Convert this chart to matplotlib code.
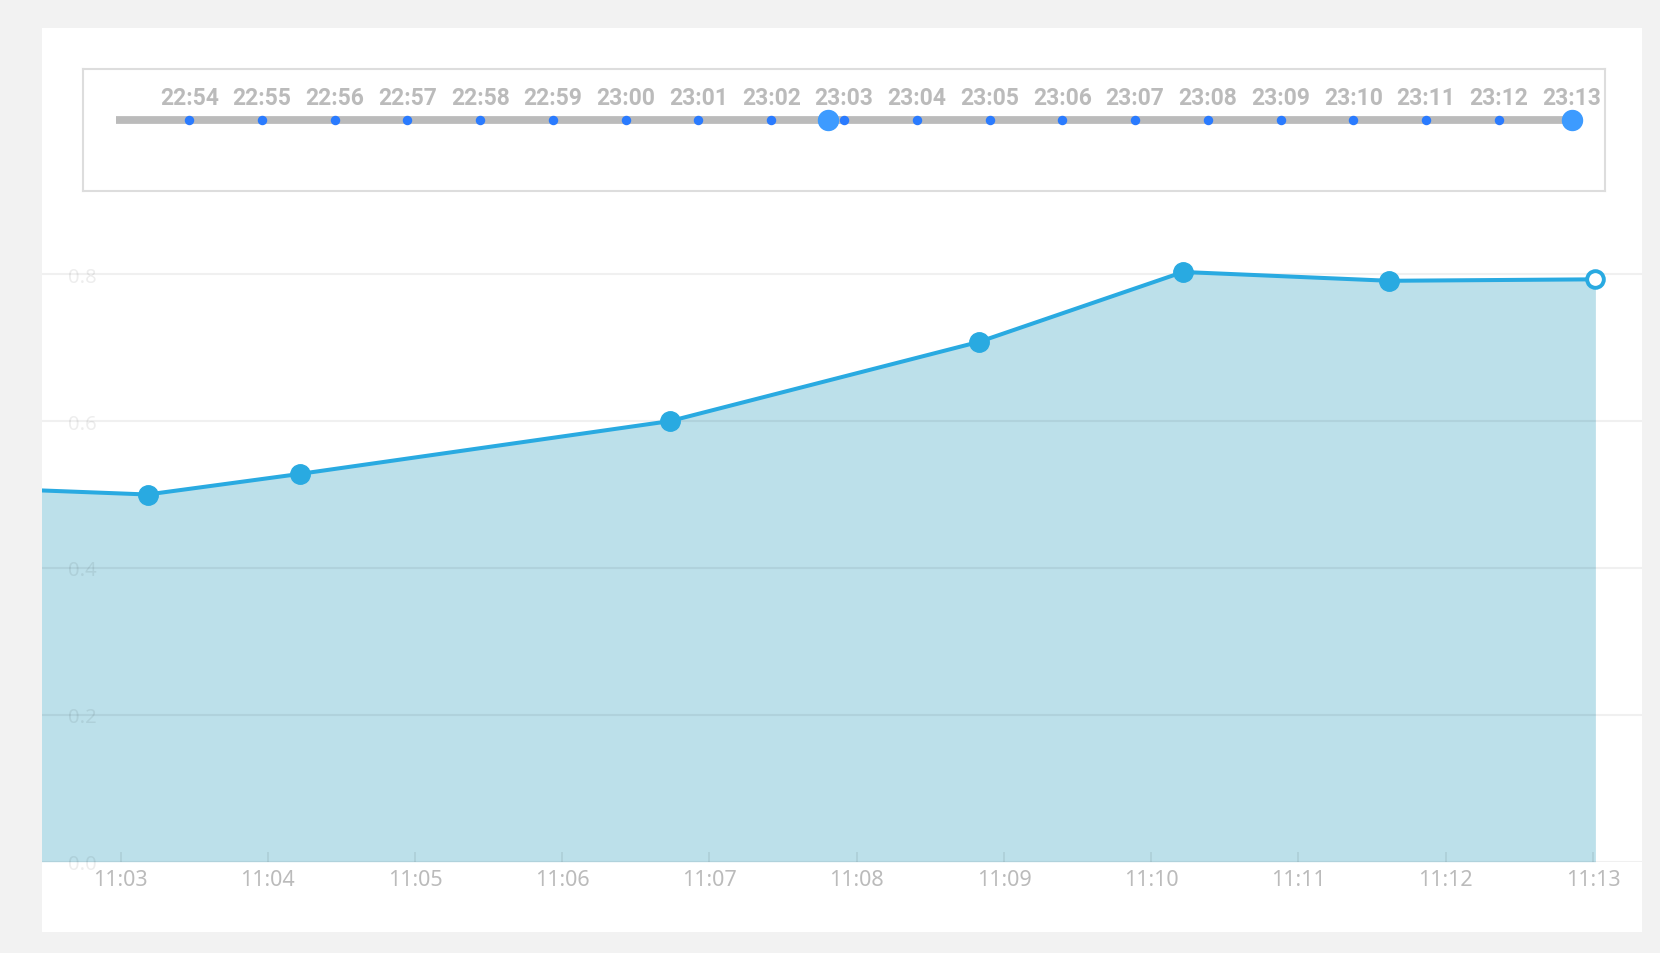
import datetime as dt
import matplotlib
matplotlib.use('Agg')
import matplotlib.pyplot as plt
import matplotlib.dates as mdates
import matplotlib.patches as patches

plt.rcParams['font.family'] = ['Noto Sans', 'DejaVu Sans']

# main series (first point sits just left of the visible window)
times = ['11:01:45', '11:03:11', '11:04:13', '11:06:44', '11:08:50',
         '11:10:13', '11:11:37', '11:13:01']
values = [0.511, 0.500, 0.528, 0.600, 0.708, 0.803, 0.791, 0.793]
x_ticks = ['11:03', '11:04', '11:05', '11:06', '11:07', '11:08',
           '11:09', '11:10', '11:11', '11:12', '11:13']
y_ticks = [0.0, 0.2, 0.4, 0.6, 0.8]
view = ('11:02:28', '11:13:20')
y_max = 0.9

# timeline strip on top
tl_labels = ['22:54', '22:55', '22:56', '22:57', '22:58', '22:59', '23:00',
             '23:01', '23:02', '23:03', '23:04', '23:05', '23:06', '23:07',
             '23:08', '23:09', '23:10', '23:11', '23:12', '23:13']
tl_start = '22:53'
tl_end = '23:13'
tl_handles = ['23:02:47', '23:13']

line_c = '#29aae1'
fill_c = '#bce0ea'
text_c = '#bbbbbb'


def t(s):
    if s.count(':') == 1:
        s = s + ':00'
    return mdates.date2num(dt.datetime.strptime('2020-01-01 ' + s, '%Y-%m-%d %H:%M:%S'))


W, H = 1660, 954
fig = plt.figure(figsize=(W / 100, H / 100), dpi=100, facecolor='#f2f2f2')

# white card
card = patches.Rectangle((42 / W, 1 - 933 / H), 1600 / W, 904 / H,
                         transform=fig.transFigure, facecolor='white',
                         edgecolor='none', zorder=-10)
fig.add_artist(card)

# ---- main area chart
ax = fig.add_axes([42 / W, 1 - 862.7 / H, 1600 / W, (y_max * 734.4) / H])
ax.set_facecolor('none')
x = [t(s) for s in times]
ax.fill_between(x, values, 0, color=fill_c, lw=0, zorder=1)
ax.plot(x, values, color=line_c, lw=2.9, zorder=3)
ax.plot(x[:-1], values[:-1], 'o', ms=14, color=line_c, zorder=4)
ax.plot(x[-1:], values[-1:], 'o', ms=12, mfc='white', mec=line_c, mew=2.8,
        zorder=4, clip_on=False)

ax.set_xlim(t(view[0]), t(view[1]))
ax.set_ylim(0, y_max)
ax.set_xticks([t(s) for s in x_ticks])
ax.set_xticklabels(x_ticks)
ax.set_yticks(y_ticks)
ax.set_yticklabels(['%.1f' % v for v in y_ticks])
ax.set_axisbelow(False)
ax.grid(axis='y', color='k', alpha=0.06, lw=1.5)
for s in ax.spines.values():
    s.set_visible(False)
ax.tick_params(axis='x', direction='in', length=7, width=1.2,
               color=(0, 0, 0, 0.08), labelcolor=text_c, labelsize=15.5, pad=5)
ax.tick_params(axis='y', direction='in', length=0, labelsize=14.5,
               labelcolor=(0, 0, 0, 0.07), pad=-19)
for lbl in ax.get_yticklabels():
    lbl.set_horizontalalignment('left')

# ---- timeline
tl = fig.add_axes([83 / W, 1 - 192 / H, 1522 / W, 122.5 / H])
tl.set_facecolor('none')
pad = 0.46 / (24 * 60)
tl.set_xlim(t(tl_start) - pad, t(tl_end) + pad)
tl.set_ylim(0, 1)
tl.set_xticks([])
tl.set_yticks([])
for s in tl.spines.values():
    s.set_color('#dddddd')
    s.set_linewidth(1.5)

bar_y = 0.58
tl.plot([t(tl_start), t(tl_end)], [bar_y, bar_y], color=text_c, lw=5.6,
        solid_capstyle='butt', zorder=1)
tx = [t(s) for s in tl_labels]
tl.plot(tx, [bar_y] * len(tx), 'o', ms=5.8, color='#2a7bff', zorder=2)
tl.plot([t(s) for s in tl_handles], [bar_y] * len(tl_handles), 'o', ms=14.4,
        color='#3d9bff', zorder=3)
for xv, lab in zip(tx, tl_labels):
    tl.text(xv, 0.71, lab, ha='center', va='baseline', fontsize=16.5,
            fontweight='bold', family=['Roboto', 'DejaVu Sans'], color=text_c)

fig.savefig('out.png', dpi=100, facecolor=fig.get_facecolor())
